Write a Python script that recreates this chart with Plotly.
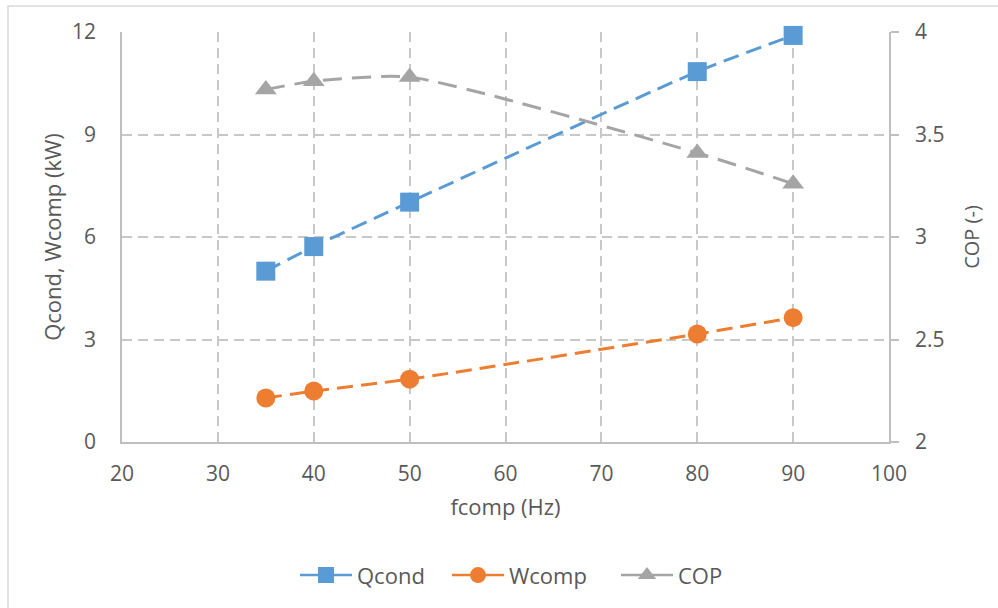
import plotly.graph_objects as go

# Compressor frequency sweep
fcomp = [35, 40, 50, 80, 90]
qcond = [5.0, 5.72, 7.02, 10.84, 11.9]
wcomp = [1.29, 1.49, 1.84, 3.16, 3.64]
cop = [3.72, 3.76, 3.78, 3.41, 3.26]

x_ticks = [20, 30, 40, 50, 60, 70, 80, 90, 100]
left_ticks = [0, 3, 6, 9, 12]
right_ticks = [2, 2.5, 3, 3.5, 4]

BLUE = "#5B9BD5"
ORANGE = "#ED7D31"
GREY = "#A5A5A5"
TXT = "#595959"
GRID = "#C8C8C8"
FONT = "Open Sans"

fig = go.Figure()

series = [
    ("Qcond", qcond, BLUE, "square", "y", 19, "16px,8px", "legend"),
    ("Wcomp", wcomp, ORANGE, "circle", "y", 19, "16px,8px", "legend2"),
    ("COP", cop, GREY, "triangle-up", "y2", 19, "19px,10px", "legend3"),
]

for name, vals, color, sym, yax, msize, dash, leg in series:
    fig.add_trace(go.Scatter(
        x=fcomp, y=vals, yaxis=yax, mode="lines+markers", name=name,
        showlegend=False, cliponaxis=False,
        line=dict(color=color, width=3, dash=dash, shape="spline", smoothing=0.6),
        marker=dict(symbol=sym, size=msize, color=color),
    ))
    # solid-line legend entry
    fig.add_trace(go.Scatter(
        x=[None], y=[None], yaxis=yax, mode="lines+markers", name=name,
        legend=leg,
        line=dict(color=color, width=2.5),
        marker=dict(symbol=sym, size=16, color=color),
    ))

tick_font = dict(family=FONT, size=21, color=TXT)
title_font = dict(family=FONT, size=22, color=TXT)


def legend_at(px_left):
    return dict(
        orientation="h", x=(px_left - 122) / 767, xanchor="left",
        y=-0.325, yanchor="middle", font=title_font, itemwidth=52,
        bgcolor="rgba(0,0,0,0)", borderwidth=0,
    )


fig.update_layout(
    width=998, height=608,
    margin=dict(l=122, r=109, t=32, b=166),
    paper_bgcolor="white", plot_bgcolor="white",
    font=dict(family=FONT, color=TXT, size=21),
    xaxis=dict(
        range=[20, 100], tickvals=x_ticks, tickfont=tick_font,
        showline=True, linecolor="#BFBFBF", linewidth=1.5,
        showgrid=True, gridcolor=GRID, gridwidth=1.5, griddash="10px,6px",
        zeroline=False, ticks="", ticklabelstandoff=12,
        title=dict(text="fcomp (Hz)", font=title_font, standoff=14),
    ),
    yaxis=dict(
        range=[0, 12], tickvals=left_ticks, tickfont=tick_font,
        showline=True, linecolor="#BFBFBF", linewidth=1.5,
        showgrid=True, gridcolor=GRID, gridwidth=1.5, griddash="10px,6px",
        zeroline=False, ticks="", ticklabelstandoff=20,
        title=dict(text="Qcond, Wcomp (kW)", font=title_font, standoff=4),
    ),
    yaxis2=dict(
        range=[2, 4], tickvals=right_ticks, tickfont=tick_font,
        overlaying="y", side="right",
        showline=True, linecolor="#BFBFBF", linewidth=1.5,
        showgrid=False, zeroline=False,
        ticks="outside", ticklen=8, tickcolor="#BFBFBF", tickwidth=1.5,
        ticklabelstandoff=12,
        title=dict(text="COP (-)", font=dict(family=FONT, size=20, color=TXT), standoff=22),
    ),
    legend=legend_at(295),
    legend2=legend_at(447),
    legend3=legend_at(616),
    shapes=[dict(
        type="rect", xref="paper", yref="paper",
        x0=(8 - 122) / 767, x1=1.3, y0=-0.6, y1=(442 - 6) / 410,
        line=dict(color="#D9D9D9", width=1.5), fillcolor="rgba(0,0,0,0)",
        layer="below",
    )],
)

fig.write_html("out.html")
